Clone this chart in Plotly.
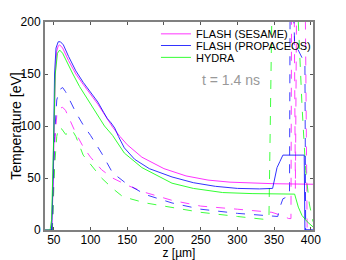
import plotly.graph_objects as go

# ---------------- data ----------------
z_sesame = [38, 47, 49, 52, 54, 56, 58, 62, 70, 80, 90, 100, 110, 120, 130, 140, 150, 170, 200,
            230, 260, 290, 320, 350, 403]
T_sesame = [0, 0, 40, 150, 172, 177, 178, 175, 163, 150, 140, 131, 121, 110, 99, 90, 82, 70, 59,
            52, 48, 46, 45, 44.5, 44]

z_propa = [38, 47, 49, 51, 53, 56, 59, 63, 70, 80, 90, 100, 110, 118, 123, 128, 133, 138, 146, 160,
           180, 211, 240, 270, 300, 330, 348, 351, 354, 358, 362, 380, 391, 392, 403]
T_propa = [0, 0, 50, 150, 175, 181, 181, 178, 167, 153, 142, 133, 123, 113, 107, 103, 98, 90, 79, 68,
           59, 51, 45.5, 42, 40, 39.5, 40, 50, 60, 66, 72, 72, 72, 0, 0]

z_hydra = [38, 45, 47, 50, 52, 55, 58, 62, 70, 76, 85, 100, 119, 130, 146, 170, 211, 240, 280, 320,
           378, 383, 388, 395, 403]
T_hydra = [0, 0, 10, 90, 150, 170, 173, 170, 158, 150, 138, 121, 100, 91, 74, 60, 45, 40, 36, 35,
           34.5, 22, 14, 8, 3]

z_sesame_d = [45, 48, 51, 54, 58, 62, 66, 72, 80, 90, 100, 115, 130, 150, 175, 211, 250, 300, 347,
              360, 370, 373, 374, 377, 379, 381, 392, 395, 403]
T_sesame_d = [0, 0, 80, 110, 117, 118, 115, 106, 93, 80, 70, 58, 50, 43, 36, 28.5, 23, 20, 17,
              14, 11, 11, 260, 260, 40, 260, 260, 0, 0]

z_propa_d = [45, 48, 51, 54, 58, 62, 66, 72, 80, 90, 100, 115, 130, 150, 175, 211, 250, 300, 345,
             355, 358, 362, 368, 371, 372, 374, 378, 385, 392, 393, 403]
T_propa_d = [0, 0, 90, 125, 135, 137, 133, 124, 113, 101, 91, 74, 55, 44, 34, 26, 20, 16, 13,
             13, 22, 30, 32, 33, 260, 260, 180, 170, 160, 0, 0]

z_hydra_d = [45, 48, 51, 54, 57, 61, 66, 70, 75, 80, 90, 100, 115, 130, 144, 175, 211, 250, 300,
             340, 343, 348, 381, 383, 388, 393, 398, 403]
T_hydra_d = [0, 0, 60, 90, 99, 97, 92, 93, 96, 90, 72, 63, 50, 40, 32, 26, 21.5, 17, 13,
             10, 12, 260, 260, 200, 120, 57, 25, 8]

names = ["FLASH (SESAME)", "FLASH (PROPACEOS)", "HYDRA"]
colors = ["#ff00ff", "#0000ff", "#00ff00"]
x_ticks = [50, 100, 150, 200, 250, 300, 350, 400]
y_ticks = [0, 50, 100, 150, 200]
time_label = "t = 1.4 ns"

FONT = "Liberation Sans, Arial, sans-serif"

fig = go.Figure()
solid = [(z_sesame, T_sesame), (z_propa, T_propa), (z_hydra, T_hydra)]
dashed = [(z_sesame_d, T_sesame_d), (z_propa_d, T_propa_d), (z_hydra_d, T_hydra_d)]
legend_ids = ["legend", "legend2", "legend3"]

for (zz, tt), c in zip(dashed, colors):
    fig.add_trace(go.Scatter(x=zz, y=tt, mode="lines", showlegend=False,
                             line=dict(color=c, width=1, dash="dash"), opacity=0.75))
for (zz, tt), c, n, lg in zip(solid, colors, names, legend_ids):
    fig.add_trace(go.Scatter(x=zz, y=tt, mode="lines", name=n, legend=lg,
                             line=dict(color=c, width=1), opacity=0.8))

leg_common = dict(x=0.414, xanchor="left", yanchor="middle", bgcolor="rgba(0,0,0,0)",
                  borderwidth=0, font=dict(family=FONT, size=11, color="black"),
                  itemwidth=30, tracegroupgap=0)
fig.update_layout(
    legend=dict(y=0.943, **leg_common),
    legend2=dict(y=0.887, **leg_common),
    legend3=dict(y=0.83, **leg_common),
)

fig.add_annotation(x=291, y=144, xref="x", yref="y", text=time_label, showarrow=False,
                   font=dict(family=FONT, size=14, color="#999999"))

axis_common = dict(showgrid=False, zeroline=False, showline=True, linecolor="#808080",
                   linewidth=2, mirror="allticks", ticks="inside", ticklen=3,
                   tickcolor="#555555", tickwidth=1, automargin=False,
                   tickfont=dict(family=FONT, size=12, color="black"))
fig.update_xaxes(range=[38, 403], tickvals=x_ticks, ticktext=[str(v) for v in x_ticks],
                 ticklabelstandoff=-2,
                 title=dict(text="z [µm]", font=dict(family=FONT, size=12, color="black"),
                            standoff=4), **axis_common)
fig.update_yaxes(range=[0, 200], tickvals=y_ticks, ticktext=[str(v) for v in y_ticks],
                 title=dict(text="Temperature [eV]", font=dict(family=FONT, size=14, color="black"),
                            standoff=3), **axis_common)

# the page body adds an 8 px offset, so the figure is 8 px smaller than the window
fig.update_layout(width=338, height=252, margin=dict(l=37, r=33, t=11, b=30),
                  paper_bgcolor="white", plot_bgcolor="white",
                  font=dict(family=FONT, size=12, color="black"))

fig.write_html("out.html")
